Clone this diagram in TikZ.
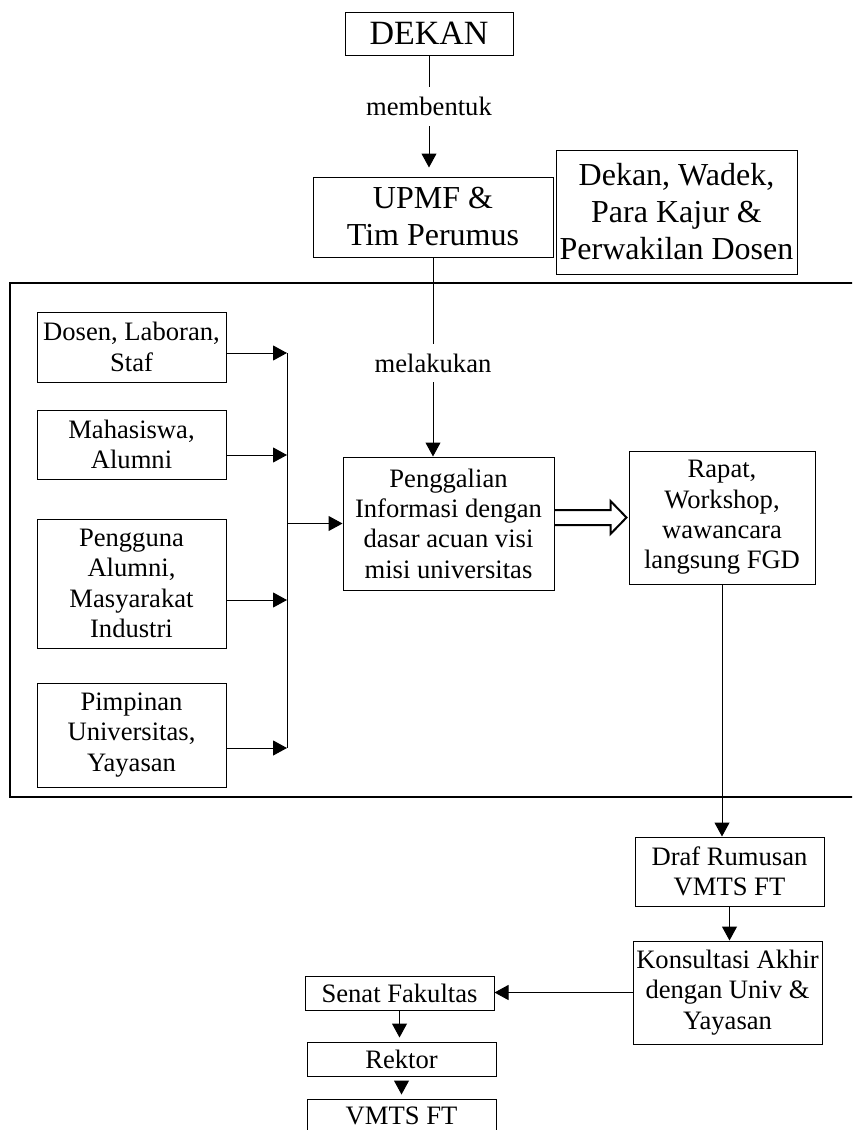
\documentclass[tikz,border=0pt]{standalone}
\usepackage{fontspec}
\setmainfont{Liberation Serif}
\usetikzlibrary{positioning,calc,arrows.meta}
\tikzset{
    boxnode/.style={draw, line width=0.5pt, align=center, inner sep=0pt, font=\fontsize{13.3pt}{15.2pt}\selectfont},
    bignode/.style={boxnode, font=\fontsize{16pt}{18.5pt}\selectfont},
    arr/.style={-{Triangle[length=7pt,width=7.5pt]}, line width=0.5pt},
    lbl/.style={fill=white, inner xsep=2pt, inner ysep=5pt, font=\fontsize{13.3pt}{15.2pt}\selectfont}
}

\begin{document}
\begin{tikzpicture}[x=0.5pt, y=-0.5pt,
        % Bingkai besar di tengah
        frame/.style={line width=1.2pt},
        % Panah kosong (tebal)
        hollow/.style={line width=1pt, line join=miter}
    ]
    \useasboundingbox (0,0) rectangle (852,1130);
    \clip (0,0) rectangle (852,1130);

    % --- BAGIAN ATAS ---
    \node[bignode, font=\fontsize{17pt}{19pt}\selectfont, minimum width=84pt, minimum height=21.5pt] (dekan) at (429,33.5) {DEKAN};
    \node[bignode, minimum width=120pt, minimum height=40pt] (upmf) at (433,217) {UPMF \&\\Tim Perumus};
    \node[bignode, minimum width=120.5pt, minimum height=62pt] (tim) at (676.5,212) {Dekan, Wadek,\\Para Kajur \&\\Perwakilan Dosen};

    \draw[arr, shorten >=4.5pt] (dekan.south) -- (dekan.south |- upmf.north)
        node[lbl, pos=0.42] {membentuk};

    % --- BINGKAI ---
    \draw[frame] (10,283) rectangle (880,797);

    % Kotak-kotak kiri
    \node[boxnode, minimum width=94.5pt, minimum height=35pt] (dosen) at (131.5,347) {Dosen, Laboran,\\Staf};
    \node[boxnode, minimum width=94.5pt, minimum height=34.5pt] (mhs) at (131.5,444.5) {Mahasiswa,\\Alumni};
    \node[boxnode, minimum width=94.5pt, minimum height=64.5pt] (pengguna) at (131.5,583.5) {Pengguna\\Alumni,\\Masyarakat\\Industri};
    \node[boxnode, minimum width=94.5pt, minimum height=52pt] (pimpinan) at (131.5,735) {Pimpinan\\Universitas,\\Yayasan};

    % Kotak tengah
    \node[boxnode, minimum width=105.5pt, minimum height=66.5pt] (gali) at (448.5,523.5) {Penggalian\\Informasi dengan\\dasar acuan visi\\misi universitas};
    \node[boxnode, minimum width=93pt, minimum height=66.5pt] (rapat) at (722,517.5) {Rapat,\\Workshop,\\wawancara\\langsung FGD};

    \draw[arr] (upmf.south) -- (upmf.south |- gali.north)
        node[lbl, pos=0.53] {melakukan};

    % Garis pengumpul
    \coordinate (b1) at (287,353);
    \coordinate (b2) at (287,455);
    \coordinate (b3) at (287,600);
    \coordinate (b4) at (287,748);
    \draw[arr] (dosen.east |- b1) -- (b1);
    \draw[arr] (mhs.east |- b2) -- (b2);
    \draw[arr] (pengguna.east |- b3) -- (b3);
    \draw[arr] (pimpinan.east |- b4) -- (b4);
    \draw[line width=0.5pt] (b1) -- (b4);
    \draw[arr] (b1 |- gali.west) -- (gali.west);

    % Panah kosong
    \coordinate (ha) at (gali.east |- rapat.west);
    \draw[hollow] ([shift={(0,-7.5)}]ha) -- ([shift={(-18,-7.5)}]rapat.west)
        -- ([shift={(-18,-16.5)}]rapat.west) -- ([shift={(-2,0)}]rapat.west)
        -- ([shift={(-18,16.5)}]rapat.west) -- ([shift={(-18,7.5)}]rapat.west)
        -- ([shift={(0,7.5)}]ha);

    % --- BAGIAN BAWAH ---
    \node[boxnode, minimum width=94.5pt, minimum height=34.5pt] (draf) at (729.5,871.5) {Draf Rumusan\\VMTS FT};
    \node[boxnode, minimum width=94.5pt, minimum height=51.5pt] (konsul) at (727.5,992.5) {Konsultasi Akhir\\dengan Univ \&\\Yayasan};
    \node[boxnode, minimum width=94.5pt, minimum height=17pt] (senat) at (399.5,993) {Senat Fakultas};
    \node[boxnode, minimum width=94.5pt, minimum height=17pt] (rektor) at (401.5,1059) {Rektor};
    \node[boxnode, minimum width=94.5pt, minimum height=17pt] (vmts) at (401.5,1116) {VMTS FT};

    \draw[arr] (rapat.south) -- (rapat.south |- draf.north);
    \draw[arr] (draf.south) -- (draf.south |- konsul.north);
    \draw[arr] (konsul.west) -- (konsul.west -| senat.east);
    \draw[arr, shorten >=2pt] (senat.south) -- (senat.south |- rektor.north);
    \draw[arr, shorten <=3pt, shorten >=2pt] (rektor.south) -- (rektor.south |- vmts.north);

\end{tikzpicture}
\end{document}
